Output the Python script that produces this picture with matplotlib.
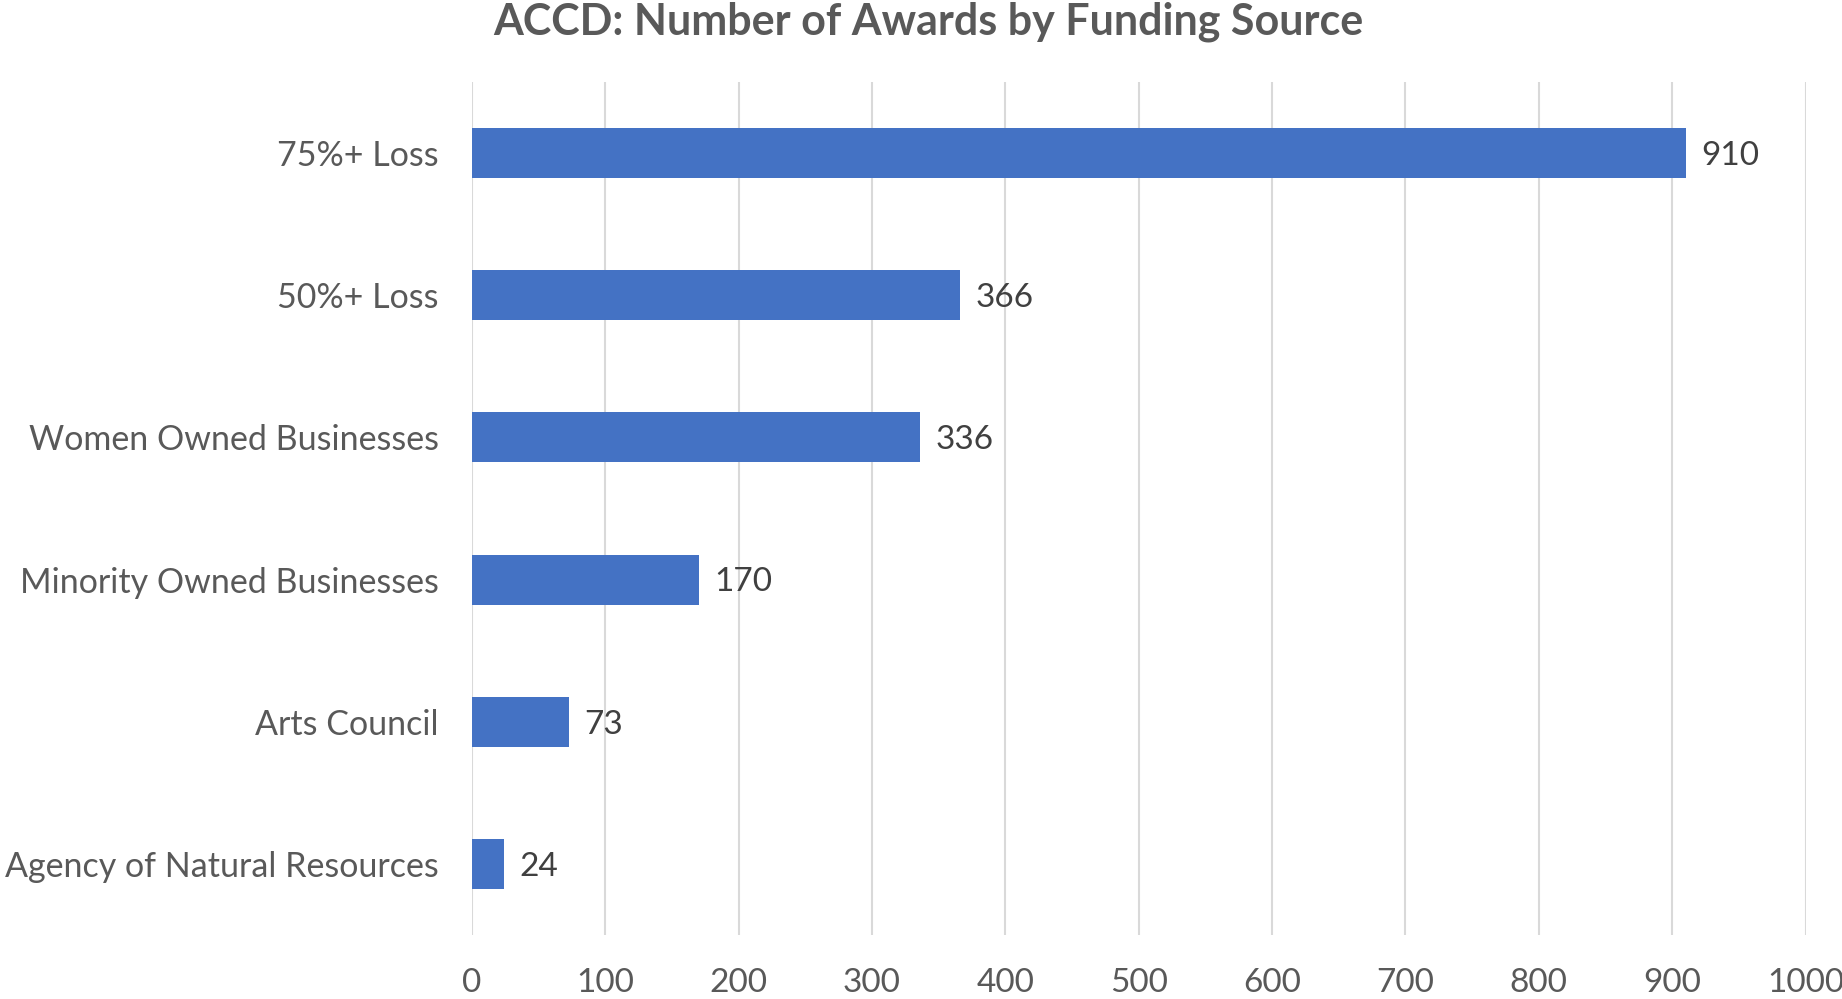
import matplotlib.pyplot as plt

categories = ["Agency of Natural Resources", "Arts Council", "Minority Owned Businesses",
              "Women Owned Businesses", "50%+ Loss", "75%+ Loss"]
awards = [24, 73, 170, 336, 366, 910]
xticks = [0, 100, 200, 300, 400, 500, 600, 700, 800, 900, 1000]

plt.rcParams['font.family'] = ['Lato', 'DejaVu Sans']

fig = plt.figure(figsize=(18.42, 9.99), dpi=100)
ax = fig.add_axes([0.2562, 0.064, 0.7240, 0.854])

ypos = list(range(len(categories)))
bars = ax.barh(ypos, awards, height=0.352, color='#4472C4', zorder=3)

for y, v in zip(ypos, awards):
    ax.annotate(str(v), (v, y), xytext=(11, -2), textcoords='offset points',
                va='center', ha='left', fontsize=24, color='#404040')

ax.set_xlim(0, 1000)
ax.set_ylim(-0.5, len(categories) - 0.5)
ax.set_xticks(xticks)
ax.set_xticklabels([str(t) for t in xticks])
ax.set_yticks(ypos)
ax.set_yticklabels(categories)
ax.tick_params(axis='x', length=0, pad=24, labelsize=24, labelcolor='#595959')
ax.tick_params(axis='y', length=0, pad=24, labelsize=24.5, labelcolor='#595959')
ax.grid(axis='x', color='#D9D9D9', linewidth=1.5, zorder=0)
for s in ax.spines.values():
    s.set_visible(False)

fig.text(0.504, 0.978, "ACCD: Number of Awards by Funding Source", ha='center', va='center',
         fontsize=31, fontweight='bold', color='#595959')

fig.savefig('out.png', dpi=100)
